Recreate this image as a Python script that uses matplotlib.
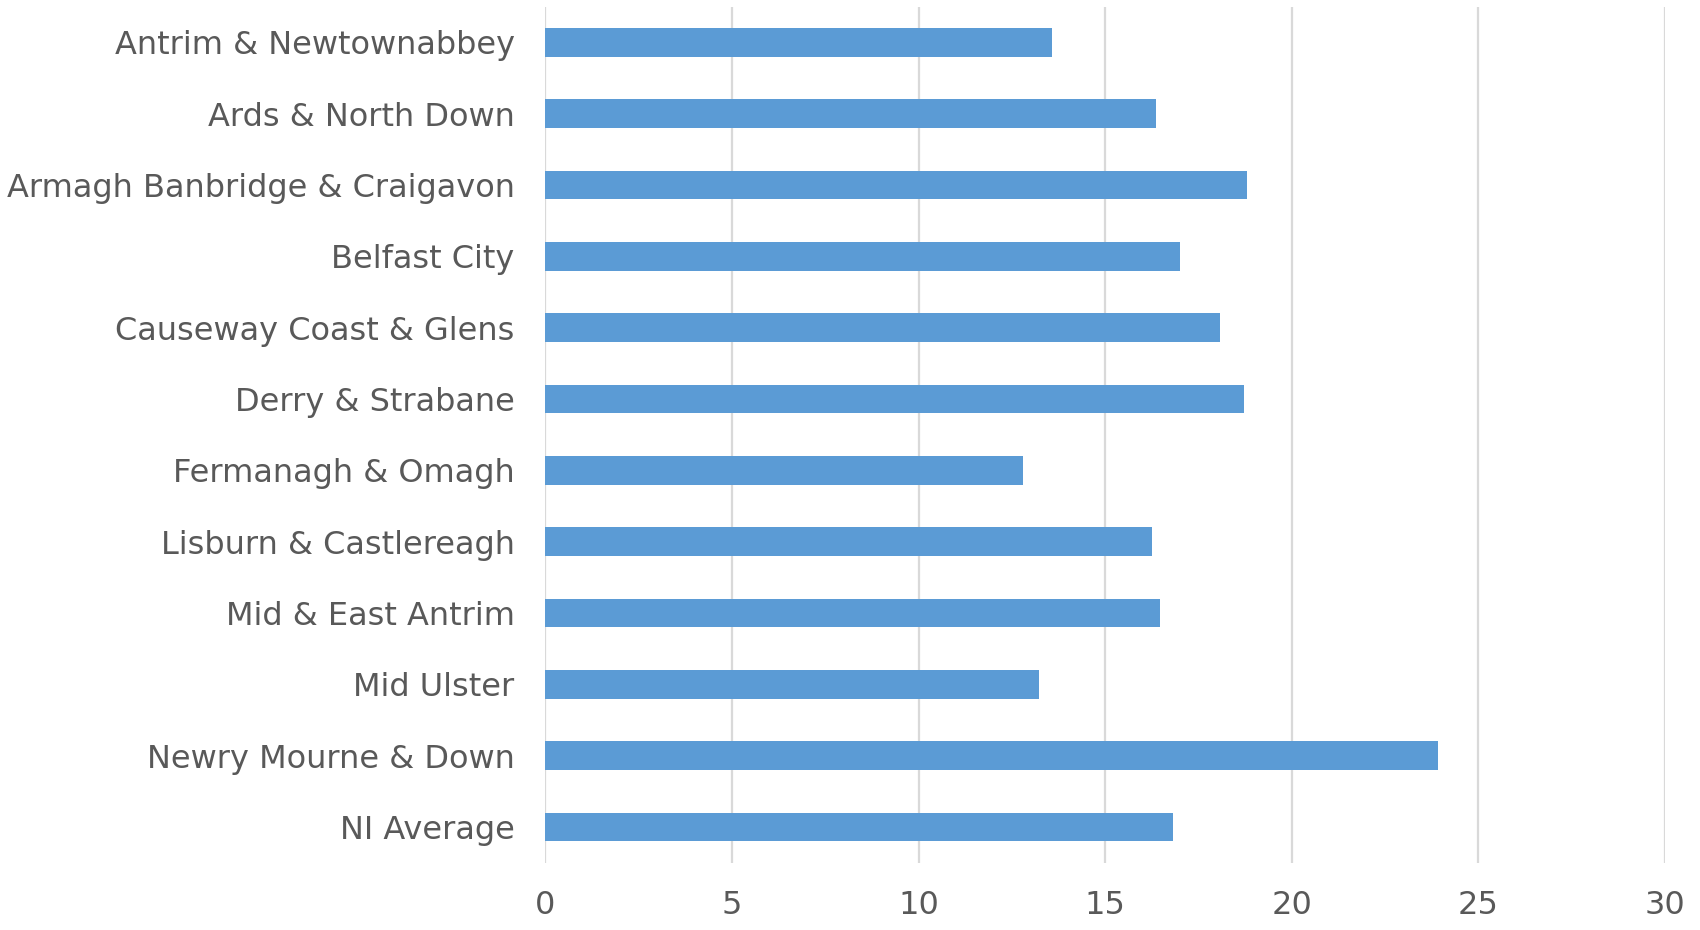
import matplotlib
matplotlib.use("Agg")
import matplotlib.pyplot as plt

categories = [
    "Antrim & Newtownabbey",
    "Ards & North Down",
    "Armagh Banbridge & Craigavon",
    "Belfast City",
    "Causeway Coast & Glens",
    "Derry & Strabane",
    "Fermanagh & Omagh",
    "Lisburn & Castlereagh",
    "Mid & East Antrim",
    "Mid Ulster",
    "Newry Mourne & Down",
    "NI Average",
]
values = [13.57, 16.35, 18.81, 17.01, 18.09, 18.71, 12.8, 16.26, 16.48, 13.22, 23.91, 16.83]
xticks = [0, 5, 10, 15, 20, 25, 30]

plt.rcParams['font.family'] = ['DejaVu Sans']
text_color = "#595959"
bar_color = "#5B9BD5"
grid_color = "#D9D9D9"

fig = plt.figure(figsize=(17, 9.3), dpi=100)
ax = fig.add_axes([545.3 / 1700, 1 - 862.7 / 930, (1665 - 545.3) / 1700, (862.7 - 6.7) / 930])

ypos = list(range(len(categories)))
ax.barh(ypos, values, height=0.40, color=bar_color, zorder=3)

ax.set_xlim(0, 30)
ax.set_ylim(len(categories) - 0.5, -0.5)
ax.set_xticks(xticks)
ax.set_xticklabels([str(t) for t in xticks])
ax.set_yticks(ypos)
ax.set_yticklabels(categories)

for s in ax.spines.values():
    s.set_visible(False)
ax.xaxis.grid(True, color=grid_color, linewidth=1.6, zorder=0)
ax.set_axisbelow(True)
ax.tick_params(axis='both', length=0, colors=text_color, labelsize=23)
ax.tick_params(axis='y', pad=22)
ax.tick_params(axis='x', pad=20)

fig.savefig("out.png", dpi=100, facecolor="white")
